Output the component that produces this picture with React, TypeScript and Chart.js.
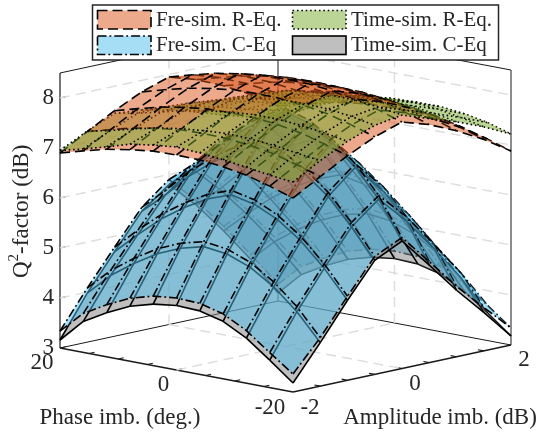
import React, { useEffect, useRef } from "react";
import { Chart, registerables } from "chart.js";

Chart.register(...registerables);

const amplitudeGrid = [-2, -1.5, -1, -0.5, 0, 0.5, 1, 1.5, 2];
const phaseGrid = [20, 16, 12, 8, 4, 0, -4, -8, -12, -16, -20];
const qTicks = [3, 4, 5, 6, 7, 8];
const phaseTicks = [20, 0, -20];
const ampTicks = [-2, 0, 2];
const phaseMinor = [15, 10, 5, 0, -5, -10, -15];
const ampMinor = [-1.5, -1, -0.5, 0, 0.5, 1, 1.5];

const freReq = [
  [6.9, 7.21, 7.51, 7.77, 7.95, 7.78, 7.54, 7.25, 6.9],
  [7.03, 7.34, 7.64, 7.9, 8.08, 7.91, 7.67, 7.38, 7.03],
  [7.15, 7.46, 7.76, 8.02, 8.2, 8.03, 7.79, 7.5, 7.15],
  [7.23, 7.54, 7.84, 8.1, 8.28, 8.11, 7.87, 7.58, 7.23],
  [7.29, 7.6, 7.9, 8.16, 8.34, 8.17, 7.93, 7.64, 7.29],
  [7.3, 7.61, 7.91, 8.17, 8.35, 8.18, 7.94, 7.65, 7.3],
  [7.29, 7.6, 7.9, 8.16, 8.34, 8.17, 7.93, 7.64, 7.29],
  [7.24, 7.55, 7.85, 8.11, 8.29, 8.12, 7.88, 7.59, 7.24],
  [7.16, 7.47, 7.77, 8.03, 8.21, 8.04, 7.8, 7.51, 7.16],
  [7.03, 7.34, 7.64, 7.9, 8.08, 7.91, 7.67, 7.38, 7.03],
  [6.88, 7.19, 7.49, 7.75, 7.93, 7.76, 7.52, 7.23, 6.88],
];
const timeReq = [
  [6.95, 7.22, 7.46, 7.41, 7.29, 7.13, 6.95, 6.8, 6.64],
  [7.07, 7.32, 7.55, 7.56, 7.46, 7.32, 7.16, 7.02, 6.9],
  [7.2, 7.44, 7.66, 7.72, 7.64, 7.52, 7.38, 7.24, 7.12],
  [7.34, 7.55, 7.78, 7.86, 7.82, 7.7, 7.56, 7.42, 7.28],
  [7.41, 7.62, 7.86, 7.98, 7.98, 7.84, 7.7, 7.55, 7.38],
  [7.46, 7.67, 7.92, 8.08, 8.12, 7.97, 7.8, 7.65, 7.46],
  [7.43, 7.7, 7.96, 8.14, 8.18, 8.03, 7.85, 7.7, 7.5],
  [7.38, 7.68, 7.96, 8.15, 8.2, 8.04, 7.87, 7.7, 7.5],
  [7.32, 7.64, 7.92, 8.13, 8.19, 8.02, 7.85, 7.66, 7.45],
  [7.25, 7.57, 7.86, 8.07, 8.14, 7.96, 7.78, 7.58, 7.36],
  [7.2, 7.51, 7.78, 7.98, 8.07, 7.88, 7.7, 7.48, 7.22],
];
const freCeq = [
  [3.34, 4.08, 4.78, 5.46, 5.9, 5.36, 4.73, 4.05, 3.34],
  [3.78, 4.52, 5.21, 5.88, 6.28, 5.77, 5.15, 4.49, 3.78],
  [4.04, 4.85, 5.61, 6.34, 6.78, 6.23, 5.55, 4.83, 4.04],
  [4.26, 5.13, 5.93, 6.71, 7.18, 6.59, 5.87, 5.1, 4.26],
  [4.39, 5.33, 6.19, 7.02, 7.52, 6.9, 6.12, 5.3, 4.39],
  [4.44, 5.45, 6.36, 7.24, 7.76, 7.11, 6.29, 5.41, 4.44],
  [4.42, 5.39, 6.26, 7.12, 7.62, 6.98, 6.2, 5.35, 4.42],
  [4.3, 5.21, 6.04, 6.84, 7.32, 6.72, 5.98, 5.18, 4.3],
  [4.05, 4.91, 5.7, 6.47, 6.92, 6.35, 5.64, 4.89, 4.05],
  [3.7, 4.5, 5.24, 5.95, 6.37, 5.84, 5.18, 4.48, 3.7],
  [3.36, 3.97, 4.68, 5.36, 5.62, 5.02, 4.41, 3.87, 3.34],
];
const timeCeq = [
  [3.16, 3.98, 4.69, 5.38, 5.8, 5.27, 4.64, 3.95, 3.16],
  [3.62, 4.42, 5.12, 5.79, 6.2, 5.68, 5.06, 4.39, 3.62],
  [3.88, 4.75, 5.52, 6.25, 6.7, 6.14, 5.46, 4.73, 3.88],
  [4.1, 5.03, 5.84, 6.62, 7.1, 6.5, 5.78, 5.0, 4.1],
  [4.23, 5.23, 6.1, 6.93, 7.45, 6.81, 6.03, 5.2, 4.23],
  [4.29, 5.35, 6.27, 7.15, 7.7, 7.02, 6.2, 5.31, 4.29],
  [4.27, 5.29, 6.17, 7.03, 7.55, 6.89, 6.11, 5.25, 4.27],
  [4.15, 5.11, 5.95, 6.75, 7.25, 6.63, 5.89, 5.08, 4.15],
  [3.9, 4.81, 5.61, 6.38, 6.85, 6.26, 5.55, 4.79, 3.9],
  [3.55, 4.4, 5.15, 5.86, 6.3, 5.75, 5.09, 4.38, 3.55],
  [3.18, 3.87, 4.6, 5.28, 5.55, 4.95, 4.33, 3.77, 3.18],
];

const FONT = '"Liberation Serif", "Times New Roman", serif';
const TEXT = "#262626";

type Pt = { x: number; y: number };

// Oblique view of the 3-D box, expressed in the units of the two hidden linear scales.
function project(amp: number, phase: number, q: number): Pt {
  const u = (amp + 2) / 4;
  const v = (20 - phase) / 40;
  return { x: 60 + 218 * u + 233 * v, y: 348 - 47 * u + 44 * v - 50 * (q - 3) };
}
function depth(amp: number, phase: number, q: number): number {
  const u = (amp + 2) / 4;
  const v = (20 - phase) / 40;
  return -216 * u + 225 * v + 10.3 * q;
}

type Style = { fill: string; dash: number[] };
const salmon: Style = { fill: "rgba(217,83,25,0.5)", dash: [10, 5] };
const green: Style = { fill: "rgba(119,172,48,0.5)", dash: [1.6, 2.8] };
const blue: Style = { fill: "rgba(77,190,238,0.5)", dash: [9, 3, 1.8, 3] };
const grey: Style = { fill: "rgba(128,128,128,0.5)", dash: [] };

type Item = { key: number; ds: any };

function lineDs(data: Pt[], color: string, width: number, dash: number[] = [], offset = 0, fill?: string) {
  return {
    type: "scatter",
    data,
    showLine: true,
    pointRadius: 0,
    tension: 0,
    borderColor: color,
    borderWidth: width,
    borderDash: dash,
    borderDashOffset: offset,
    borderCapStyle: "butt",
    borderJoinStyle: "round",
    backgroundColor: fill ?? "transparent",
    fill: fill ? "shape" : false,
  };
}

function frontFacing(table: number[][], r: number, c: number): boolean {
  const pts = [
    project(amplitudeGrid[c], phaseGrid[r], table[r][c]),
    project(amplitudeGrid[c + 1], phaseGrid[r], table[r][c + 1]),
    project(amplitudeGrid[c + 1], phaseGrid[r + 1], table[r + 1][c + 1]),
    project(amplitudeGrid[c], phaseGrid[r + 1], table[r + 1][c]),
  ];
  let area = 0;
  for (let i = 0; i < 4; i++) {
    const a = pts[i];
    const b = pts[(i + 1) % 4];
    area += a.x * b.y - b.x * a.y;
  }
  return area > 0;
}

function addSurface(
  items: Item[],
  table: number[][],
  style: Style,
  layerOf: (row: number, col: number) => number,
) {
  const rows = phaseGrid.length;
  const cols = amplitudeGrid.length;
  const P = (r: number, c: number) => project(amplitudeGrid[c], phaseGrid[r], table[r][c]);
  const D = (r: number, c: number) => depth(amplitudeGrid[c], phaseGrid[r], table[r][c]);
  const clampR = (r: number) => Math.max(0, Math.min(rows - 2, r));
  const clampC = (c: number) => Math.max(0, Math.min(cols - 2, c));

  for (let r = 0; r < rows - 1; r++) {
    for (let c = 0; c < cols - 1; c++) {
      const poly = [P(r, c), P(r, c + 1), P(r + 1, c + 1), P(r + 1, c)];
      const key = (D(r, c) + D(r, c + 1) + D(r + 1, c + 1) + D(r + 1, c)) / 4;
      items.push({
        key: layerOf(r, c) * 100000 + key,
        ds: lineDs(poly, "transparent", 0, [], 0, style.fill),
      });
    }
  }
  // Lines of constant phase
  for (let r = 0; r < rows; r++) {
    let run = 0;
    for (let c = 0; c < cols - 1; c++) {
      const a = P(r, c);
      const b = P(r, c + 1);
      const key = (D(r, c) + D(r, c + 1)) / 2 + 14;
      items.push({
        key: layerOf(clampR(r - 1), c) * 100000 + key,
        ds: lineDs([a, b], "#000", 1.6, style.dash, run),
      });
      run += Math.hypot(b.x - a.x, b.y - a.y);
    }
  }
  // Lines of constant amplitude
  for (let c = 0; c < cols; c++) {
    let run = 0;
    for (let r = 0; r < rows - 1; r++) {
      const a = P(r, c);
      const b = P(r + 1, c);
      const key = (D(r, c) + D(r + 1, c)) / 2 + 14;
      items.push({
        key: layerOf(r, clampC(c - 1)) * 100000 + key,
        ds: lineDs([a, b], "#000", 1.6, style.dash, run),
      });
      run += Math.hypot(b.x - a.x, b.y - a.y);
    }
  }
}

function buildBackground(): any[] {
  const out: any[] = [];
  const gridColor = "#dcdcdc";
  const gd = [10, 6];
  // z grid on the two back walls
  for (const q of qTicks.slice(1)) {
    out.push(lineDs([project(-2, 20, q), project(2, 20, q)], gridColor, 1.4, gd));
    out.push(lineDs([project(2, 20, q), project(2, -20, q)], gridColor, 1.4, gd));
  }
  // vertical grid at the zero ticks
  out.push(lineDs([project(0, 20, 3), project(0, 20, 8.5)], gridColor, 1.4, gd));
  out.push(lineDs([project(2, 0, 3), project(2, 0, 8.5)], gridColor, 1.4, gd));
  // floor grid at the zero ticks
  out.push(lineDs([project(0, 20, 3), project(0, -20, 3)], gridColor, 1.4, gd));
  out.push(lineDs([project(-2, 0, 3), project(2, 0, 3)], gridColor, 1.4, gd));
  // box
  const thin = "#1a1a1a";
  out.push(lineDs([project(-2, 20, 3), project(2, 20, 3)], thin, 1));
  out.push(lineDs([project(2, 20, 3), project(2, -20, 3)], thin, 1));
  out.push(lineDs([project(-2, 20, 8.5), project(2, 20, 8.5)], thin, 1));
  out.push(lineDs([project(2, 20, 8.5), project(2, -20, 8.5)], thin, 1));
  out.push(lineDs([project(2, 20, 3), project(2, 20, 8.5)], thin, 1));
  out.push(lineDs([project(-2, 20, 3), project(-2, 20, 8.5)], thin, 1.2));
  out.push(lineDs([project(2, -20, 3), project(2, -20, 8.5)], thin, 1));
  out.push(lineDs([project(-2, 20, 3), project(-2, -20, 3)], thin, 1.6));
  out.push(lineDs([project(-2, -20, 3), project(2, -20, 3)], thin, 1.6));
  // tick marks
  for (const q of qTicks) out.push(lineDs([project(-2, 20, q), project(-1.9, 20, q)], thin, 1));
  for (const p of phaseMinor) out.push(lineDs([project(-2, p, 3), project(-1.9, p, 3)], thin, 1.1));
  for (const a of ampMinor) out.push(lineDs([project(a, -20, 3), project(a, -19, 3)], thin, 1.1));
  return out;
}

const textPlugin = {
  id: "textPlugin",
  afterDraw(chart: any) {
    const { ctx, scales } = chart;
    const X = (v: number) => scales.x.getPixelForValue(v);
    const Y = (v: number) => scales.y.getPixelForValue(v);
    ctx.save();
    ctx.fillStyle = TEXT;
    ctx.textBaseline = "middle";
    ctx.font = `23px ${FONT}`;
    ctx.textAlign = "right";
    for (const q of qTicks) {
      const p = project(-2, 20, q);
      ctx.fillText(String(q), X(p.x) - 6, Y(p.y));
    }
    ctx.textAlign = "center";
    const phaseAt: Record<string, [number, number]> = { "20": [-18, 15], "0": [-13, 15], "-20": [-23, 16] };
    for (const t of phaseTicks) {
      const p = project(-2, t, 3);
      const o = phaseAt[String(t)];
      ctx.fillText(String(t), X(p.x) + o[0], Y(p.y) + o[1]);
    }
    const ampAt: Record<string, [number, number]> = { "-2": [17, 16], "0": [13, 15], "2": [13, 15] };
    for (const t of ampTicks) {
      const p = project(t, -20, 3);
      const o = ampAt[String(t)];
      ctx.fillText(String(t), X(p.x) + o[0], Y(p.y) + o[1]);
    }
    ctx.fillText("Phase imb. (deg.)", 120, 418);
    ctx.fillText("Amplitude imb. (dB)", 440, 418);

    // rotated axis title with superscript
    ctx.save();
    ctx.translate(22, 278);
    ctx.rotate(-Math.PI / 2);
    ctx.textAlign = "left";
    ctx.font = `23px ${FONT}`;
    ctx.fillText("Q", 0, 0);
    let w = ctx.measureText("Q").width;
    ctx.font = `15px ${FONT}`;
    ctx.fillText("2", w, -8);
    w += ctx.measureText("2").width;
    ctx.font = `23px ${FONT}`;
    ctx.fillText("-factor (dB)", w, 0);
    ctx.restore();

    // legend
    ctx.fillStyle = "#fff";
    ctx.fillRect(92.5, 5, 406, 55);
    ctx.strokeStyle = "#262626";
    ctx.lineWidth = 1.5;
    ctx.setLineDash([]);
    ctx.strokeRect(92.5, 5, 406, 55);
    const entries: [string, string, number[], number, number, number][] = [
      ["Fre-sim. R-Eq.", "#eca98c", salmon.dash, 97.5, 10.5, 156],
      ["Fre-sim. C-Eq", "#a6def6", blue.dash, 97.5, 36, 156],
      ["Time-sim. R-Eq.", "#bbd597", green.dash, 292.5, 10.5, 351],
      ["Time-sim. C-Eq", "#bfbfbf", grey.dash, 292.5, 36, 351],
    ];
    for (const [label, fill, dash, sx, sy, tx] of entries) {
      ctx.fillStyle = fill;
      ctx.fillRect(sx, sy, 53.5, 18.5);
      ctx.strokeStyle = "#000";
      ctx.lineWidth = 1.6;
      ctx.setLineDash(dash);
      ctx.strokeRect(sx, sy, 53.5, 18.5);
      ctx.setLineDash([]);
      ctx.fillStyle = TEXT;
      ctx.textAlign = "left";
      ctx.font = `21px ${FONT}`;
      ctx.fillText(label, tx, sy + 9.5);
    }
    ctx.restore();
  },
};

export default function App() {
  const ref = useRef<HTMLCanvasElement>(null);
  useEffect(() => {
    const items: Item[] = [];
    // Back-facing cells are seen from beneath, so there the lower surface is the nearer one.
    addSurface(items, timeCeq, grey, (r, c) => (frontFacing(timeCeq, r, c) ? 2 : 1));
    addSurface(items, freCeq, blue, (r, c) => (frontFacing(freCeq, r, c) ? 3 : 0));
    const cellMean = (t: number[][], r: number, c: number) => t[r][c] + t[r][c + 1] + t[r + 1][c] + t[r + 1][c + 1];
    const rLayer = (t: number[][], other: number[][], ties: boolean) => (r: number, c: number) => {
      const upper = ties ? cellMean(t, r, c) >= cellMean(other, r, c) : cellMean(t, r, c) > cellMean(other, r, c);
      return frontFacing(t, r, c) ? (upper ? 7 : 6) : upper ? 4 : 5;
    };
    addSurface(items, freReq, salmon, rLayer(freReq, timeReq, true));
    addSurface(items, timeReq, green, rLayer(timeReq, freReq, false));
    items.sort((a, b) => b.key - a.key);
    const datasets = [...items.map((i) => i.ds), ...buildBackground()];
    const chart = new Chart(ref.current!, {
      type: "scatter",
      data: { datasets },
      options: {
        animation: false,
        responsive: false,
        events: [],
        layout: { padding: 0 },
        plugins: { legend: { display: false }, tooltip: { enabled: false }, title: { display: false } },
        scales: {
          x: { type: "linear", min: 0, max: 538, display: false },
          y: { type: "linear", min: 0, max: 437, reverse: true, display: false },
        },
      },
      plugins: [textPlugin],
    } as any);
    return () => chart.destroy();
  }, []);
  return (
    <div style={{ position: "fixed", left: 0, top: 0, width: 538, height: 437, background: "#fff" }}>
      <canvas ref={ref} width={538} height={437} style={{ display: "block" }} />
    </div>
  );
}
